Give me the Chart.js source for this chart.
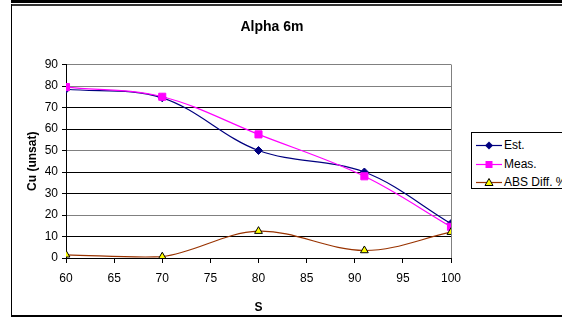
<!DOCTYPE html>
<html>
<head>
<meta charset="utf-8">
<script src="https://cdn.jsdelivr.net/npm/chart.js@4.4.1/dist/chart.umd.min.js"></script>
<style>
  html, body { margin: 0; padding: 0; background: #fff; }
  body { width: 562px; height: 318px; position: relative; overflow: hidden; font-family: "Liberation Sans", Arial, sans-serif; }
  #wrap { position: absolute; left: 0; top: 0; width: 544px; height: 318px; }
  #topbar { position: absolute; left: 11px; top: 0; width: 551px; height: 3px; background: #000; }
  #topline { position: absolute; left: 11px; top: 4px; width: 551px; height: 2px; background: #333; }
  #leftline { position: absolute; left: 11px; top: 4px; width: 1px; height: 313px; background: #000; }
  #bottomline { position: absolute; left: 11px; top: 315px; width: 551px; height: 2px; background: #000; }
  #legend { position: absolute; left: 471px; top: 132px; width: 120px; height: 57px; border: 1px solid #000; background: #fff; box-sizing: border-box; }
  .item { position: absolute; left: 4px; height: 14px; font-size: 12px; line-height: 14px; color: #000; white-space: nowrap; }
  .item canvas { position: absolute; left: 0; top: 0; }
  .item span { position: absolute; left: 28px; top: 0; }
</style>
</head>
<body>
<div id="wrap"><canvas id="c" width="544" height="318"></canvas></div>
<div id="topbar"></div>
<div id="topline"></div>
<div id="leftline"></div>
<div id="bottomline"></div>
<div id="legend"></div>
<script>
const chartTitle = "Alpha 6m";
const xTitle = "S";
const yTitle = "Cu (unsat)";
const sValues = [60, 70, 80, 91, 100];
const estValues = [78.5, 74.5, 50, 40, 16];
const measValues = [79.5, 75, 57.5, 38, 14.5];
const absDiffValues = [1.5, 0.6, 12.5, 3.5, 12];
const seriesNames = ["Est.", "Meas.", "ABS Diff. %"];
const xTicks = [60, 65, 70, 75, 80, 85, 90, 95, 100];
const yTicks = [0, 10, 20, 30, 40, 50, 60, 70, 80, 90];

const styles = [
  { line: '#000080', fill: '#000080', border: '#000080', point: 'rectRot', r: 4 },
  { line: '#FF00FF', fill: '#FF00FF', border: '#FF00FF', point: 'rect', r: 5 },
  { line: '#993300', fill: '#FFFF00', border: '#000000', point: 'triangle', r: 4.5 }
];
const seriesValues = [estValues, measValues, absDiffValues];

const datasets = seriesValues.map((vals, i) => ({
  label: seriesNames[i],
  data: sValues.map((s, k) => ({ x: s, y: vals[k] })),
  xAxisID: 'x',
  yAxisID: 'y',
  showLine: true,
  borderColor: styles[i].line,
  borderWidth: 1.2,
  backgroundColor: styles[i].fill,
  pointBackgroundColor: styles[i].fill,
  pointBorderColor: styles[i].border,
  pointBorderWidth: 1,
  pointStyle: styles[i].point,
  pointRadius: styles[i].r,
  tension: 0.35,
  order: 3 - i
}));

const gridPattern = { 90: '#808080', 80: '#808080', 70: '#000', 60: '#000', 50: '#808080', 40: '#000', 30: '#000', 20: '#808080', 10: '#000', 0: '#000' };

new Chart(document.getElementById('c'), {
  type: 'scatter',
  data: { datasets },
  options: {
    responsive: false,
    animation: false,
    devicePixelRatio: 1,
    layout: { padding: { left: 0, right: 0, top: 0, bottom: 0 } },
    plugins: {
      legend: { display: false },
      tooltip: { enabled: false },
      title: {
        display: true, text: chartTitle, color: '#000',
        font: { family: 'Liberation Sans', size: 14, weight: 'bold' },
        padding: { top: 19, bottom: 28.7 }
      }
    },
    scales: {
      x: {
        type: 'linear', min: 60, max: 100,
        afterBuildTicks: (s) => { s.ticks = xTicks.map(v => ({ value: v })); },
        afterFit: (s) => { s.height = 60; },
        border: { color: '#000', width: 1 },
        grid: {
          color: (ctx) => (ctx.tick && ctx.tick.value === 100) ? '#808080' : 'rgba(0,0,0,0)',
          tickColor: '#000', tickLength: 5, drawTicks: true
        },
        ticks: { color: '#000', font: { family: 'Liberation Sans', size: 12 }, padding: 8, maxRotation: 0 },
        title: { display: true, text: xTitle, color: '#000', font: { family: 'Liberation Sans', size: 12, weight: 'bold' }, padding: { top: 0, bottom: 3 } }
      },
      y: {
        type: 'linear', min: 0, max: 90,
        afterBuildTicks: (s) => { s.ticks = yTicks.map(v => ({ value: v })); },
        afterFit: (s) => { s.width = 66; },
        border: { color: '#000', width: 1 },
        grid: {
          color: (ctx) => ctx.tick ? (gridPattern[ctx.tick.value] || '#000') : '#000',
          tickColor: '#000', tickLength: 4
        },
        ticks: { color: '#000', font: { family: 'Liberation Sans', size: 12 }, padding: 4 },
        title: { display: true, text: yTitle, color: '#000', font: { family: 'Liberation Sans', size: 12, weight: 'bold' }, padding: { top: 25, bottom: 0 } }
      },
      yR: {
        type: 'linear', position: 'right', min: 0, max: 90,
        afterFit: (s) => { s.width = 93; },
        grid: { display: false, drawOnChartArea: false, drawTicks: false },
        border: { display: false },
        ticks: { display: false }
      }
    }
  }
});

// HTML legend built from the series
const legend = document.getElementById('legend');
seriesNames.forEach((name, i) => {
  const item = document.createElement('div');
  item.className = 'item';
  item.style.top = (5 + i * 18.5) + 'px';
  const cv = document.createElement('canvas');
  cv.width = 26; cv.height = 14;
  const g = cv.getContext('2d');
  g.strokeStyle = styles[i].line; g.lineWidth = 1.2;
  g.beginPath(); g.moveTo(0, 7.5); g.lineTo(26, 7.5); g.stroke();
  g.fillStyle = styles[i].fill; g.strokeStyle = styles[i].border; g.lineWidth = 1;
  const cx = 13, cy = 7.5;
  g.beginPath();
  if (styles[i].point === 'rectRot') { g.moveTo(cx, cy - 4); g.lineTo(cx + 4, cy); g.lineTo(cx, cy + 4); g.lineTo(cx - 4, cy); g.closePath(); g.fill(); }
  else if (styles[i].point === 'rect') { g.rect(cx - 3.5, cy - 3.5, 7, 7); g.fill(); }
  else { g.moveTo(cx, cy - 4); g.lineTo(cx + 4, cy + 3); g.lineTo(cx - 4, cy + 3); g.closePath(); g.fill(); g.stroke(); }
  item.appendChild(cv);
  const sp = document.createElement('span');
  sp.textContent = name;
  item.appendChild(sp);
  legend.appendChild(item);
});
</script>
</body>
</html>
